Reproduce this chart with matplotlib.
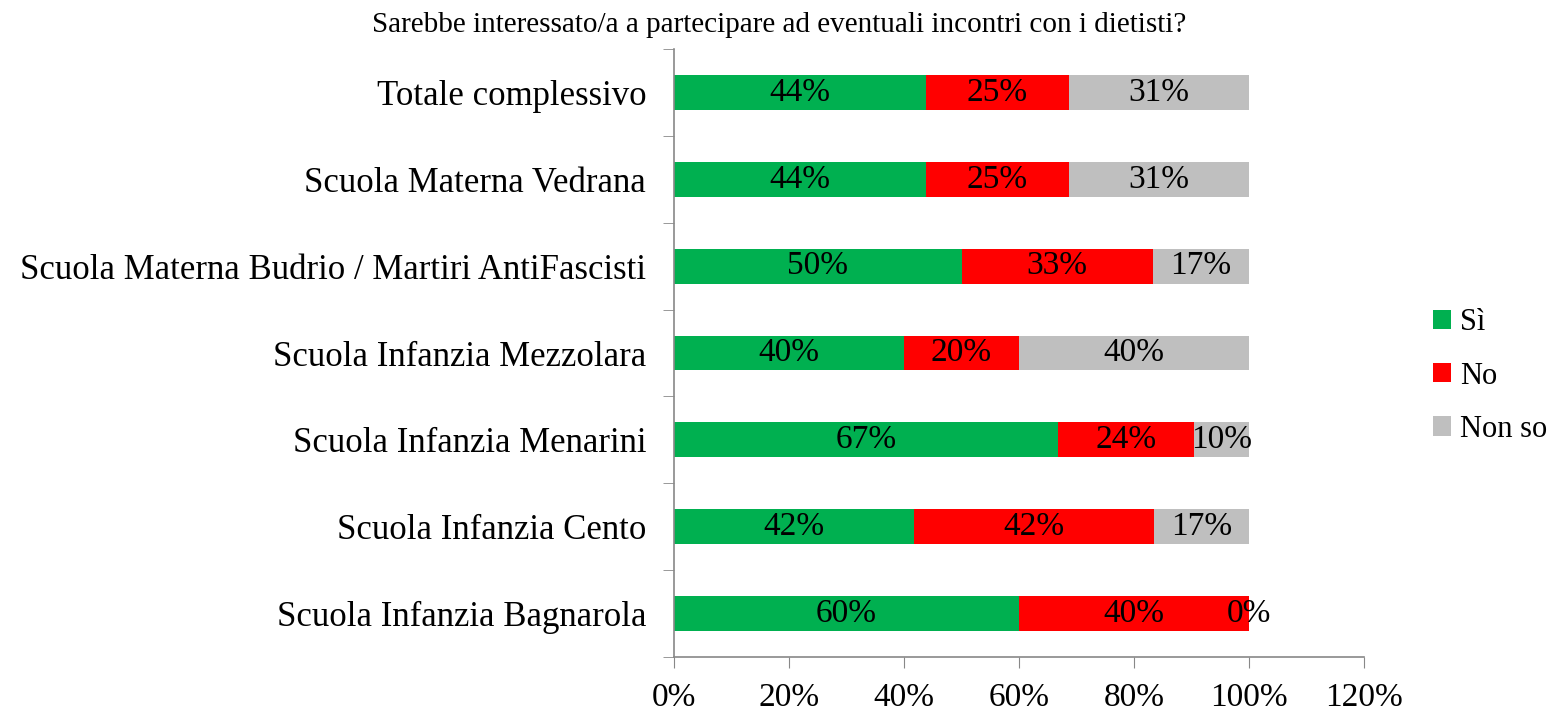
import matplotlib.pyplot as plt
import numpy as np

plt.rcParams['font.family'] = ['Liberation Serif', 'DejaVu Serif']

title = "Sarebbe interessato/a a partecipare ad eventuali incontri con i dietisti?"
categories = [
    "Totale complessivo",
    "Scuola Materna Vedrana",
    "Scuola Materna Budrio / Martiri AntiFascisti",
    "Scuola Infanzia Mezzolara",
    "Scuola Infanzia Menarini",
    "Scuola Infanzia Cento",
    "Scuola Infanzia Bagnarola",
]
si = [43.75, 43.75, 50.0, 40.0, 66.7, 41.7, 60.0]
no = [25.0, 25.0, 33.3, 20.0, 23.8, 41.7, 40.0]
nonso = [31.25, 31.25, 16.7, 40.0, 9.5, 16.6, 0.0]
series_names = ["Sì", "No", "Non so"]
colors = ["#00b050", "#ff0000", "#bfbfbf"]
xticks = [0, 20, 40, 60, 80, 100, 120]

fig = plt.figure(figsize=(15.58, 7.11), dpi=100)
ax = fig.add_axes([674 / 1558, 1 - 657 / 711, 690 / 1558, 608 / 711])

y = np.arange(len(categories))
left = np.zeros(len(categories))
for vals, name, col in zip([si, no, nonso], series_names, colors):
    vals = np.array(vals)
    bars = ax.barh(y, vals, left=left, height=0.4, color=col, label=name)
    ax.bar_label(bars, labels=[f"{round(v)}%" for v in vals], label_type="center", fontsize=24)
    left += vals

ax.set_ylim(len(categories) - 0.5, -0.5)
ax.set_xlim(0, 120)
ax.set_xticks(xticks)
ax.set_xticklabels([f"{t}%" for t in xticks], fontsize=24)
ax.set_yticks(y)
ax.set_yticklabels(categories, fontsize=25)
ax.set_yticks(np.arange(-0.5, len(categories)), minor=True)
ax.tick_params(axis="y", which="major", length=0, pad=20)
ax.tick_params(axis="y", which="minor", length=8, color="#888888", direction="out")
ax.tick_params(axis="x", length=8, color="#888888", pad=10)

for s in ["top", "right"]:
    ax.spines[s].set_visible(False)
for s in ["left", "bottom"]:
    ax.spines[s].set_color("#888888")
    ax.spines[s].set_linewidth(1.2)

fig.text(0.5, 1 - 25 / 711, title, ha="center", va="center", fontsize=21)

fig.legend(loc="center left", bbox_to_anchor=(1405 / 1558, 1 - 376 / 711), frameon=False,
           fontsize=22, handlelength=0.6, handleheight=0.6, handletextpad=0.3, labelspacing=0.8)

fig.savefig("out.png", dpi=100)
